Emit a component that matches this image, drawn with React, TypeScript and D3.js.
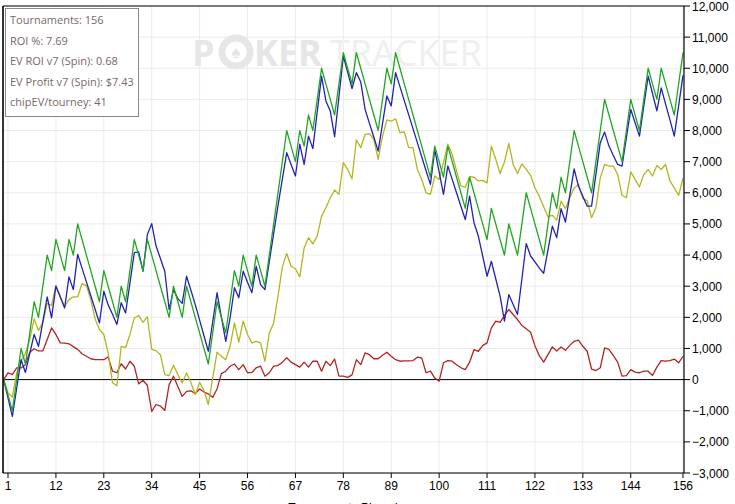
import * as d3 from 'd3';

// tournaments played, 0..156
const tournaments = d3.range(0, 157);

// actual chips won (green)
const chipsWon = [
  0, -500, -1000, 0, 1000, 500, 1500, 2500, 2000, 3000,
  4000, 3500, 4500, 4000, 3500, 4500, 4000, 5000, 4500, 4000,
  3500, 3000, 2500, 3500, 3000, 2500, 2000, 3000, 2500, 3500,
  4500, 4000, 3500, 4500, 4000, 3500, 3000, 2500, 2000, 3000,
  2500, 2000, 3000, 2500, 2000, 1500, 1000, 500, 1500, 2500,
  2000, 1500, 2500, 3500, 3000, 4000, 3500, 3000, 4000, 3500,
  3000, 4000, 5000, 6000, 7000, 8000, 7500, 7000, 8000, 7500,
  8500, 8000, 9000, 10000, 9500, 9000, 8500, 9500, 10500, 10000,
  9500, 10500, 10000, 9500, 9000, 8500, 8000, 9000, 10000, 9500,
  10500, 10000, 9500, 9000, 8500, 8000, 7500, 7000, 6500, 7500,
  7000, 6500, 7500, 7000, 6500, 6000, 5500, 6500, 6000, 5500,
  5000, 4500, 5500, 5000, 4500, 4000, 5000, 4500, 4000, 5000,
  6000, 5500, 5000, 4500, 4000, 5000, 6000, 5500, 6500, 6000,
  7000, 8000, 7500, 7000, 6500, 6000, 7000, 8000, 9000, 8500,
  8000, 7500, 7000, 8000, 9000, 8500, 8000, 9000, 10000, 9500,
  9000, 10000, 9500, 9000, 8500, 9500, 10500,
];

// money won in chip units (blue)
const moneyWon = [
  0, -590, -1180, -270, 640, 230, 840, 1450, 1070, 1860,
  2660, 1980, 3000, 2650, 2300, 3300, 2890, 4020, 3580, 3140,
  2700, 2260, 1820, 2840, 2400, 2100, 1770, 2470, 2140, 3100,
  4080, 4100, 3480, 4660, 5010, 4290, 3890, 3480, 2250, 2890,
  2600, 2450, 3320, 2870, 2410, 1910, 1410, 910, 1850, 2790,
  2010, 1230, 1980, 2950, 2630, 3480, 3130, 2790, 3640, 3050,
  2890, 3790, 4690, 5590, 6440, 7290, 6910, 6540, 7560, 6910,
  7820, 7420, 8590, 9750, 8950, 8630, 7800, 9100, 10390, 9870,
  9350, 9860, 9560, 8680, 8230, 7790, 7340, 8220, 9110, 8790,
  9860, 9410, 8960, 8510, 8060, 7610, 7160, 6710, 6270, 7390,
  6670, 5950, 6860, 6430, 6000, 5570, 5140, 5890, 5040, 4610,
  3970, 3320, 3800, 3240, 2680, 1880, 2730, 2410, 2090, 3230,
  4370, 3970, 3780, 3590, 3410, 4170, 4930, 4560, 5490, 5060,
  5920, 6770, 6210, 5890, 5570, 5570, 6590, 7610, 7950, 7500,
  7200, 6910, 6860, 7770, 8680, 8250, 7820, 8790, 9750, 9190,
  8630, 9370, 8850, 8340, 7820, 8800, 9770,
];

// all-in chip EV (yellow)
const chipEV = [
  0, -430, -560, 215, 590, 840, 1290, 1950, 1580, 1820,
  2450, 2380, 3020, 2680, 2340, 2570, 2660, 2660, 3080, 3020,
  2570, 1950, 1610, 1450, 850, -100, -200, 1070, 1030, 1450,
  1980, 2060, 1840, 2020, 970, 930, 800, 160, 130, 460,
  160, -110, 215, -100, -480, -90, -350, -800, 40, 880,
  750, 640, 1070, 1820, 1200, 1880, 1450, 1180, 1230, 1180,
  590, 1500, 1820, 2680, 3620, 4050, 3640, 3560, 3300, 4230,
  4560, 4360, 4610, 5250, 5520, 5840, 6090, 5950, 6970, 6750,
  6450, 7700, 7450, 7880, 7900, 7720, 7070, 7820, 8340, 8300,
  8380, 7930, 7960, 7450, 7450, 6750, 6430, 6000, 5950, 6540,
  6430, 6970, 7560, 7230, 6700, 6220, 6180, 6520, 6500, 6380,
  6400, 6320, 7500, 7080, 6620, 6990, 7590, 6910, 6620, 6930,
  6750, 6560, 6160, 5890, 5550, 5230, 5280, 5120, 5730, 5490,
  5850, 6150, 6270, 5810, 5750, 5200, 5520, 6480, 6910, 6860,
  6860, 6590, 5920, 5840, 6670, 6430, 6190, 6590, 6750, 6540,
  6880, 6750, 6910, 6380, 6160, 5920, 6480,
];

// EV profit (red)
const evProfit = [
  0, 215, 160, 375, 375, 480, 880, 990, 920, 920,
  1290, 1660, 1450, 1180, 1170, 1150, 1060, 970, 830, 750,
  670, 640, 640, 640, 730, 270, 220, 510, 340, 590,
  430, -140, -20, -190, -1020, -800, -850, -990, -160, 110,
  -220, -540, -380, -360, -450, -300, -400, -460, -570, -300,
  190, 270, 430, 500, 320, 480, 220, 230, 380, 430,
  110, 220, 430, 450, 560, 700, 560, 480, 400, 560,
  400, 590, 590, 270, 590, 450, 660, 110, 110, 70,
  150, 640, 480, 860, 800, 670, 670, 780, 880, 750,
  640, 590, 600, 600, 610, 720, 700, 220, 270, 50,
  -50, 540, 610, 590, 480, 380, 320, 560, 960, 910,
  1090, 1180, 1660, 1880, 1840, 2060, 2250, 2090, 1930, 1740,
  1630, 1520, 1090, 770, 560, 800, 1050, 920, 1050, 940,
  1100, 1230, 1270, 1070, 910, 340, 290, 380, 1020, 970,
  770, 560, 110, 130, 320, 240, 220, 270, 270, 130,
  400, 610, 590, 610, 660, 540, 750,
];

const xTicks = [1, 12, 23, 34, 45, 56, 67, 78, 89, 100, 111, 122, 133, 144, 156];
const yTicks = [-3000, -2000, -1000, 0, 1000, 2000, 3000, 4000, 5000, 6000, 7000, 8000, 9000, 10000, 11000, 12000];
const statLines = [
  'Tournaments: 156',
  'ROI %: 7.69',
  'EV ROI v7 (Spin): 0.68',
  'EV Profit v7 (Spin): $7.43',
  'chipEV/tourney: 41',
];

const seriesList = [
  { key: 'ev', values: evProfit, color: '#b22424' },
  { key: 'chipev', values: chipEV, color: '#b5b520' },
  { key: 'money', values: moneyWon, color: '#2222b4' },
  { key: 'chips', values: chipsWon, color: '#22a622' },
];

export default function App() {
  const width = 735;
  const height = 504;
  const frame = { left: 3, right: 684, top: 6, bottom: 473 };

  const x = d3.scaleLinear().domain([0, 156]).range([3.65, 683]);
  const y = d3.scaleLinear().domain([-3000, 12000]).range([frame.bottom, frame.top]);
  const fmt = d3.format(',');

  const line = d3
    .line<number>()
    .x((_, i) => x(tournaments[i]))
    .y((d) => y(d));

  const axisFont = '"Liberation Sans", Arial, sans-serif';

  return (
    <svg
      width={width}
      height={height}
      style={{ position: 'absolute', left: 0, top: 0, background: '#fff' }}
    >
      <defs>
        <clipPath id="plot">
          <rect x={frame.left} y={frame.top} width={frame.right - frame.left} height={frame.bottom - frame.top} />
        </clipPath>
      </defs>

      {/* grid */}
      {yTicks.map((t) => (
        <line key={'gy' + t} x1={frame.left} x2={frame.right} y1={y(t)} y2={y(t)} stroke="#ebebeb" />
      ))}
      {xTicks.map((t) => (
        <line key={'gx' + t} x1={x(t)} x2={x(t)} y1={frame.top} y2={frame.bottom} stroke="#ebebeb" />
      ))}

      {/* watermark */}
      <g fontFamily='"Open Sans", "Noto Sans", sans-serif' fontSize={36}>
        <text x={192} y={66} fill="#e6e6e6" fontWeight={700}>P</text>
        <circle cx={236} cy={52} r={14} fill="none" stroke="#e6e6e6" strokeWidth={7} />
        <text x={236} y={58} fill="#e6e6e6" fontSize={17} textAnchor="middle">♠</text>
        <text x={254} y={66} fill="#e6e6e6" fontWeight={700}>KER</text>
        <text x={330} y={66} fill="#efefef" fontWeight={400}>TRACKER</text>
      </g>

      {/* zero line */}
      <line x1={frame.left} x2={frame.right} y1={y(0)} y2={y(0)} stroke="#000" strokeWidth={1} />

      {/* series */}
      <g clipPath="url(#plot)">
        {seriesList.map((s) => (
          <path key={s.key} d={line(s.values) ?? ''} fill="none" stroke={s.color} strokeWidth={1.3} strokeLinejoin="round" />
        ))}
      </g>

      {/* frame */}
      <line x1={frame.left} x2={frame.right} y1={frame.top} y2={frame.top} stroke="#000" strokeWidth={1.2} />
      <line x1={frame.left} x2={frame.left} y1={frame.top} y2={frame.bottom} stroke="#000" strokeWidth={1.6} />
      <line x1={frame.left} x2={frame.right} y1={frame.bottom} y2={frame.bottom} stroke="#000" strokeWidth={1.2} />
      <line x1={frame.right} x2={frame.right} y1={frame.top} y2={frame.bottom} stroke="#000" strokeWidth={1.2} />

      {/* right axis */}
      <g fontFamily={axisFont} fontSize={12} fill="#000">
        {yTicks.map((t) => (
          <g key={'ty' + t}>
            <line x1={frame.right} x2={frame.right + 6} y1={y(t)} y2={y(t)} stroke="#000" />
            <text x={frame.right + 8} y={y(t) + 4.5}>{fmt(t)}</text>
          </g>
        ))}
      </g>

      {/* bottom axis */}
      <g fontFamily={axisFont} fontSize={12} fill="#000">
        {xTicks.map((t) => (
          <g key={'tx' + t}>
            <line x1={x(t)} x2={x(t)} y1={frame.bottom} y2={frame.bottom + 5} stroke="#000" />
            <text x={x(t)} y={frame.bottom + 17} textAnchor="middle">{t}</text>
          </g>
        ))}
        <text x={343} y={512} textAnchor="middle">Tournaments Played</text>
      </g>

      {/* stats box */}
      <rect x={5.5} y={8.5} width={133} height={108} fill="#fff" stroke="#8a8a8a" />
      <g fontFamily='"Open Sans", "Noto Sans", sans-serif' fontSize={11} fill="#786868">
        {statLines.map((s, i) => (
          <text key={s} x={10} y={24 + i * 20.5}>{s}</text>
        ))}
      </g>
    </svg>
  );
}
